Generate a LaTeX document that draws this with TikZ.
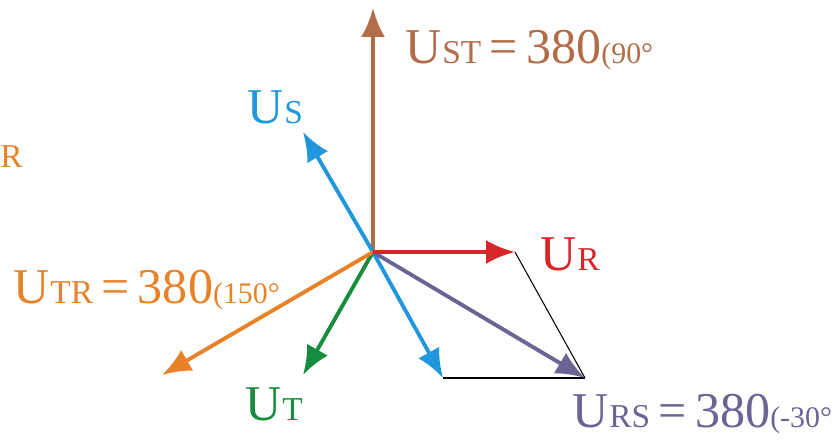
\documentclass[tikz,border=0pt]{standalone}
\usepackage{fontspec}
\setmainfont{Liberation Serif}
\usetikzlibrary{arrows.meta}

\definecolor{cST}{RGB}{178,108,72}
\definecolor{cS}{RGB}{32,150,220}
\definecolor{cR}{RGB}{214,38,40}
\definecolor{cRS}{RGB}{108,100,148}
\definecolor{cT}{RGB}{22,140,62}
\definecolor{cTR}{RGB}{232,130,40}

% U with small-cap index
\newcommand{\uidx}[1]{U\kern0.5pt{\fontsize{19}{19}\selectfont #1}}
% line value with angle
\newcommand{\uline}[2]{\uidx{#1}\,=\,380{\fontsize{17}{17}\selectfont(#2°}}

\begin{document}
\begin{tikzpicture}[x=0.02cm, y=-0.02cm,
    >={Latex[length=0.58cm,width=0.48cm]},
    vec/.style={->, line width=2.2pt},
    aux/.style={black, line width=0.6pt},
    lbl/.style={anchor=base west, inner sep=0pt, font=\fontsize{28.5}{30}\selectfont}]
    \useasboundingbox (0,0) rectangle (840,440);

    % origin and tips
    \coordinate (o) at (373,252);
    \coordinate (st) at (373,8);
    \coordinate (s) at (303,132);
    \coordinate (r) at (515,252);
    \coordinate (rs) at (585,378);
    \coordinate (ns) at (443,378);
    \coordinate (t) at (303,375);
    \coordinate (tr) at (162,375);

    % parallelogram
    \draw[aux] (r) -- (rs);
    \draw[aux] (ns) -- (rs);

    % phasors
    \draw[vec, cST] (o) -- (st);
    \draw[vec, cS] (o) -- (s);
    \draw[vec, cS] (o) -- (ns);
    \draw[vec, cT] (o) -- (t);
    \draw[vec, cTR] (o) -- (tr);
    \draw[vec, cRS] (o) -- (rs);
    \draw[vec, cR] (o) -- (r);

    % labels
    \node[lbl, text=cST] (lst) at (405,63) {\uline{ST}{90}};
    \node[lbl, text=cS] (ls) at (247,123) {\uidx{S}};
    \node[lbl, text=cR] (lr) at (540,270) {\uidx{R}};
    \node[lbl, text=cTR] (ltr) at (13,303) {\uline{TR}{150}};
    \node[lbl, text=cT] (lt) at (245,420) {\uidx{T}};
    \node[lbl, text=cRS] (lrs) at (572,427) {\uline{RS}{-30}};
    \node[lbl, text=cTR] (lcut) at (0,167) {\fontsize{19}{19}\selectfont R};
\end{tikzpicture}
\end{document}
